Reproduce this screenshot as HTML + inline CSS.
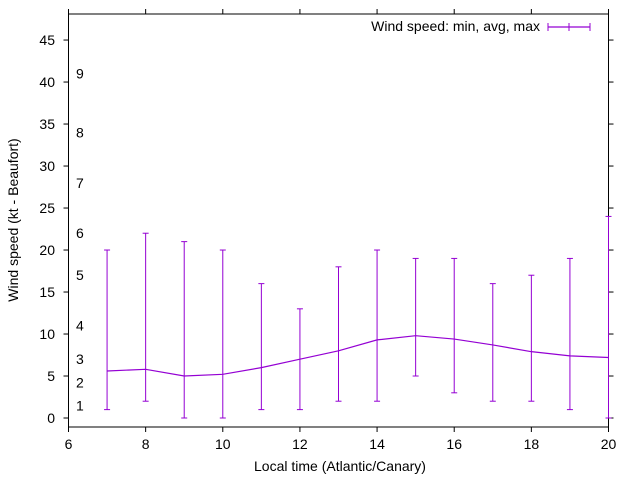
<!DOCTYPE html>
<html><head><meta charset="utf-8"><style>
body{margin:0;background:#fff}
svg{display:block;font-family:"Liberation Sans",sans-serif}
</style></head><body>
<svg id="c" width="640" height="480">
<rect x="0" y="0" width="640" height="480" fill="#fff"/>
<g id="axes"></g>
<g id="series"></g>
<text x="340" y="471" font-size="14" text-anchor="middle">Local time (Atlantic/Canary)</text>
<text transform="translate(18,220) rotate(-90)" font-size="14" text-anchor="middle">Wind speed (kt - Beaufort)</text>
<g>
<text x="540" y="31" font-size="14" text-anchor="end">Wind speed: min, avg, max</text>
<line x1="548" y1="27" x2="590" y2="27" stroke="#9400d3" stroke-width="1.2"/>
<line x1="548" y1="23" x2="548" y2="31" stroke="#9400d3"/>
<line x1="590" y1="23" x2="590" y2="31" stroke="#9400d3"/>
<line x1="569" y1="23" x2="569" y2="31" stroke="#9400d3"/>
</g>
</svg>
<script>
const hours=[7,8,9,10,11,12,13,14,15,16,17,18,19,20];
const avgSpeed=[5.6,5.8,5.0,5.2,6.0,7.0,8.0,9.3,9.8,9.4,8.7,7.9,7.4,7.2];
const minSpeed=[1,2,0,0,1,1,2,2,5,3,2,2,1,0];
const maxSpeed=[20,22,21,20,16,13,18,20,19,19,16,17,19,24];
const xTicks=[6,8,10,12,14,16,18,20];
const yTicks=[0,5,10,15,20,25,30,35,40,45];
const beaufortLabels=["1","2","3","4","5","6","7","8","9"];
const beaufortValues=[1.5,4.2,7,11,17,22,28,34,41];
const L=68.5,R=608.5,T=14,B=427,X0=6,X1=20,Y0=-1.07,Y1=48.1;
const sx=v=>L+(v-X0)/(X1-X0)*(R-L);
const sy=v=>B-(v-Y0)/(Y1-Y0)*(B-T);
const NS="http://www.w3.org/2000/svg";
function mk(tag,attrs,parent,txt){const e=document.createElementNS(NS,tag);for(const k in attrs)e.setAttribute(k,attrs[k]);if(txt!==undefined)e.textContent=txt;parent.appendChild(e);return e;}
const ax=document.getElementById('axes');
const frame=mk('rect',{x:L,y:T,width:R-L,height:B-T,fill:'none',stroke:'#000','stroke-width':1},ax);


xTicks.forEach(v=>{const x=sx(v);
mk('line',{x1:x,y1:B,x2:x,y2:B+5,stroke:'#000'},ax);
mk('line',{x1:x,y1:T,x2:x,y2:T-5,stroke:'#000'},ax);
const t=mk('text',{x:x,y:B+22,'font-size':14,'text-anchor':'middle'},ax,String(v));

});
yTicks.forEach(v=>{const y=sy(v);
mk('line',{x1:L,y1:y,x2:L-5,y2:y,stroke:'#000'},ax);
mk('line',{x1:R,y1:y,x2:R+5,y2:y,stroke:'#000'},ax);
const t=mk('text',{x:55,y:y+5,'font-size':14,'text-anchor':'end'},ax,String(v));

});
beaufortLabels.forEach((s,i)=>{const t=mk('text',{x:76,y:sy(beaufortValues[i])+5,'font-size':14},ax,s);

});
const sg=document.getElementById('series');
const pts=hours.map((h,i)=>sx(h)+','+sy(avgSpeed[i])).join(' ');
const line=mk('polyline',{points:pts,fill:'none',stroke:'#9400d3','stroke-width':1.2},sg);


hours.forEach((h,i)=>{const x=sx(h),y1=sy(minSpeed[i]),y2=sy(maxSpeed[i]);
const g=mk('g',{stroke:'#9400d3','stroke-width':1},sg);


mk('line',{x1:x,y1:y1,x2:x,y2:y2},g);
mk('line',{x1:x-3,y1:y1,x2:x+3,y2:y1},g);
mk('line',{x1:x-3,y1:y2,x2:x+3,y2:y2},g);});
</script>
</body></html>
